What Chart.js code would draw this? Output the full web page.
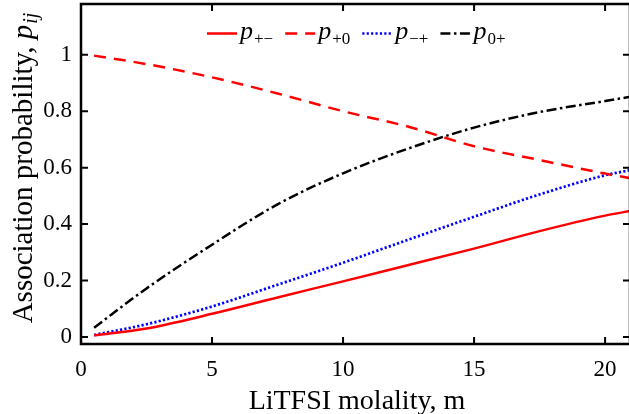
<!DOCTYPE html>
<html><head><meta charset="utf-8">
<script src="https://cdn.jsdelivr.net/npm/chart.js@4"></script>
<style>html,body{margin:0;padding:0;overflow:hidden;background:#fff}#wrap{width:629px;height:414px;overflow:hidden}</style>
</head><body>
<div id="wrap"><canvas id="c" width="632" height="414" style="width:632px;height:414px"></canvas></div>
<script>
// Data
const molality   = [0.5, 2.5, 5, 7.5, 10, 12.5, 15, 17.5, 20, 21];
const pPlusMinus = [0.005, 0.030, 0.082, 0.140, 0.197, 0.255, 0.313, 0.375, 0.430, 0.447];
const pPlusZero  = [0.997, 0.967, 0.920, 0.863, 0.800, 0.745, 0.676, 0.627, 0.579, 0.562];
const pMinusPlus = [0.007, 0.045, 0.108, 0.185, 0.263, 0.345, 0.426, 0.505, 0.573, 0.592];
const pZeroPlus  = [0.033, 0.172, 0.327, 0.470, 0.580, 0.668, 0.742, 0.797, 0.836, 0.852];
const seriesSubs = ['+\u2212', '+0', '\u2212+', '0+'];
const xTicks = [0, 5, 10, 15, 20];
const yTicks = [0, 0.2, 0.4, 0.6, 0.8, 1];
const xTitle = 'LiTFSI molality, m';
const yTitle = 'Association probability, ';

const SERIF = '"Liberation Serif", "Times New Roman", serif';
const pts = arr => molality.map((x, i) => ({x, y: arr[i]}));

const decorPlugin = {
  id: 'decor',
  afterDatasetsDraw(chart) {
    const {ctx, chartArea: a, scales: {x, y}} = chart;
    ctx.save();
    // frame
    ctx.strokeStyle = '#000';
    ctx.lineWidth = 2.5;
    ctx.strokeRect(a.left, a.top, a.right - a.left, a.bottom - a.top);
    // inward ticks
    ctx.lineWidth = 2;
    const L = 7;
    ctx.beginPath();
    xTicks.forEach(v => {
      const px = x.getPixelForValue(v);
      ctx.moveTo(px, a.bottom); ctx.lineTo(px, a.bottom - L);
      ctx.moveTo(px, a.top); ctx.lineTo(px, a.top + L);
    });
    yTicks.forEach(v => {
      const py = y.getPixelForValue(v);
      ctx.moveTo(a.left, py); ctx.lineTo(a.left + L, py);
      ctx.moveTo(a.right, py); ctx.lineTo(a.right - L, py);
    });
    ctx.stroke();

    ctx.fillStyle = '#000';
    // x title
    ctx.font = '28px ' + SERIF;
    ctx.textAlign = 'center';
    ctx.textBaseline = 'alphabetic';
    ctx.fillText(xTitle, 357, 409);

    // y title (rotated) with italic p and subscript ij
    ctx.save();
    ctx.translate(32, 168);
    ctx.rotate(-Math.PI / 2);
    const f1 = '29px ' + SERIF, f2 = 'italic 29px ' + SERIF, f3 = 'italic 20px ' + SERIF;
    ctx.font = f1; const w1 = ctx.measureText(yTitle).width;
    ctx.font = f2; const w2 = ctx.measureText('p').width;
    ctx.font = f3; const w3 = ctx.measureText('ij').width;
    let sx = -(w1 + w2 + w3 + 1) / 2;
    ctx.textAlign = 'left';
    ctx.font = f1; ctx.fillText(yTitle, sx, 0); sx += w1;
    ctx.font = f2; ctx.fillText('p', sx, 0); sx += w2 + 1;
    ctx.font = f3; ctx.fillText('ij', sx, 5);
    ctx.restore();

    // legend
    let cx = 207;
    const ly = 33.5;
    chart.data.datasets.forEach((ds, i) => {
      ctx.strokeStyle = ds.borderColor;
      ctx.lineWidth = ds.borderWidth;
      ctx.setLineDash(ds.borderDash || []);
      ctx.beginPath(); ctx.moveTo(cx, ly); ctx.lineTo(cx + 30, ly); ctx.stroke();
      ctx.setLineDash([]);
      cx += 33;
      ctx.fillStyle = '#000';
      ctx.textAlign = 'left';
      ctx.font = 'italic 26px ' + SERIF;
      ctx.fillText('p', cx, 39);
      cx += ctx.measureText('p').width + 1;
      ctx.font = '17px ' + SERIF;
      ctx.fillText(seriesSubs[i], cx, 44);
      cx += ctx.measureText(seriesSubs[i]).width + 12;
    });
    ctx.restore();
  }
};

const mk = (arr, color, dash, w) => ({
  data: pts(arr), borderColor: color, borderWidth: w, borderDash: dash,
  pointRadius: 0, fill: false, cubicInterpolationMode: 'monotone'
});

new Chart(document.getElementById('c'), {
  type: 'line',
  data: {
    datasets: [
      mk(pPlusMinus, '#ff0000', [], 2.5),
      mk(pPlusZero, '#ff0000', [12, 8], 2.5),
      mk(pMinusPlus, '#0000ff', [2.2, 2.2], 2.7),
      mk(pZeroPlus, '#000000', [10, 3.5, 2.5, 3.5], 2.5)
    ]
  },
  options: {
    responsive: false,
    animation: false,
    layout: {padding: {top: 4, right: 2, left: 0, bottom: 0}},
    plugins: {legend: {display: false}, tooltip: {enabled: false}},
    scales: {
      x: {
        type: 'linear', min: 0, max: 20.95,
        afterFit: s => { s.height = 70; s.paddingLeft = 0; s.paddingRight = 0; },
        afterBuildTicks: s => { s.ticks = xTicks.map(v => ({value: v})); },
        grid: {display: false, drawTicks: false},
        border: {display: false},
        ticks: {padding: 12, color: '#000', font: {family: SERIF, size: 23}, maxRotation: 0,
                callback: v => String(v)}
      },
      y: {
        type: 'linear', min: -0.025, max: 1.18,
        afterFit: s => { s.width = 81; s.paddingTop = 0; s.paddingBottom = 0; },
        afterBuildTicks: s => { s.ticks = yTicks.map(v => ({value: v})); },
        grid: {display: false, drawTicks: false},
        border: {display: false},
        ticks: {padding: 9, color: '#000', font: {family: SERIF, size: 23},
                callback: v => String(v)}
      }
    }
  },
  plugins: [decorPlugin]
});
</script>
</body></html>
